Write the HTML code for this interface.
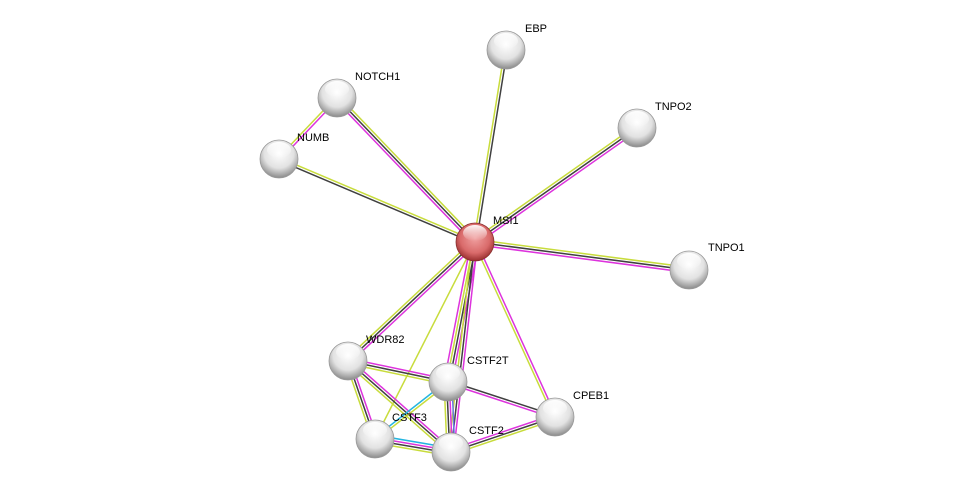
<!DOCTYPE html>
<html><head><meta charset="utf-8"><style>
html,body{margin:0;padding:0;background:#fff;width:976px;height:497px;overflow:hidden}
text{font-family:"Liberation Sans",sans-serif;font-size:11px;fill:#000}
</style></head><body>
<svg id="s" width="976" height="497" xmlns="http://www.w3.org/2000/svg">
<defs>
<radialGradient id="g" cx="0.5" cy="0.35" r="0.65">
<stop offset="0" stop-color="#ffffff"/><stop offset="0.6" stop-color="#e2e2e2"/><stop offset="1" stop-color="#8a8a8a"/>
</radialGradient>
<radialGradient id="r" cx="0.5" cy="0.4" r="0.65">
<stop offset="0" stop-color="#f0a0a0"/><stop offset="0.6" stop-color="#d96a6a"/><stop offset="1" stop-color="#8a2020"/>
</radialGradient>
<linearGradient id="h" x1="0" y1="0" x2="0" y2="1">
<stop offset="0" stop-color="#fff" stop-opacity="0.95"/><stop offset="1" stop-color="#fff" stop-opacity="0"/>
</linearGradient>
</defs>
<g id="edges"></g><g id="nodes"></g>
</svg>
<script>
var N={MSI1:[475,242],EBP:[506,50],NOTCH1:[337,98],NUMB:[279,159],TNPO2:[637,128],TNPO1:[689,270],WDR82:[348,361],CSTF2T:[448,382],CPEB1:[555,417],CSTF3:[375,439],CSTF2:[451,452]};
var C={y:'#c8dc3c',k:'#404040',m:'#dd33dd',c:'#22b5e0',b:'#6a7ae8'};
var E=[['MSI1','EBP','yk'],['MSI1','NOTCH1','mky'],['MSI1','NUMB','ky'],['NOTCH1','NUMB','my'],['MSI1','TNPO2','ykm'],['MSI1','TNPO1','ykm'],['MSI1','WDR82','mky'],['MSI1','CSTF2T','mkym'],['MSI1','CSTF2','mky'],['MSI1','CSTF3','y'],['MSI1','CPEB1','my'],['WDR82','CSTF2T','mky'],['WDR82','CSTF3','mky'],['WDR82','CSTF2','mky'],['CSTF2T','CSTF3','yc'],['CSTF2T','CSTF2','bmky'],['CSTF2T','CPEB1','km'],['CSTF3','CSTF2','cmky'],['CSTF2','CPEB1','mky']];
var ns='http://www.w3.org/2000/svg',eg=document.getElementById('edges'),ng=document.getElementById('nodes');
E.forEach(function(e){var a=N[e[0]],b=N[e[1]],dx=b[0]-a[0],dy=b[1]-a[1],L=Math.hypot(dx,dy),px=-dy/L,py=dx/L,n=e[2].length;
for(var i=0;i<n;i++){var o=(i-(n-1)/2)*2.6,l=document.createElementNS(ns,'line');
l.setAttribute('x1',a[0]+px*o);l.setAttribute('y1',a[1]+py*o);l.setAttribute('x2',b[0]+px*o);l.setAttribute('y2',b[1]+py*o);
l.setAttribute('stroke',C[e[2][i]]);l.setAttribute('stroke-width','1.5');eg.appendChild(l);}});
var lab={MSI1:[493,224],EBP:[525,32],NOTCH1:[355,80],NUMB:[297,141],TNPO2:[655,110],TNPO1:[708,251],WDR82:[366,343],CSTF2T:[467,364],CPEB1:[573,399],CSTF3:[392,421],CSTF2:[469,434]};
for(var k in N){var p=N[k],red=k=='MSI1',c=document.createElementNS(ns,'circle');
c.setAttribute('cx',p[0]);c.setAttribute('cy',p[1]);c.setAttribute('r',19);c.setAttribute('fill',red?'url(#r)':'url(#g)');c.setAttribute('stroke',red?'#8a3030':'#999');c.setAttribute('stroke-width','0.8');ng.appendChild(c);
var h=document.createElementNS(ns,'ellipse');h.setAttribute('cx',p[0]);h.setAttribute('cy',p[1]-9);h.setAttribute('rx',12);h.setAttribute('ry',8);h.setAttribute('fill','url(#h)');ng.appendChild(h);
var t=document.createElementNS(ns,'text');t.setAttribute('x',lab[k][0]);t.setAttribute('y',lab[k][1]);t.textContent=k;ng.appendChild(t);}
</script>
</body></html>
